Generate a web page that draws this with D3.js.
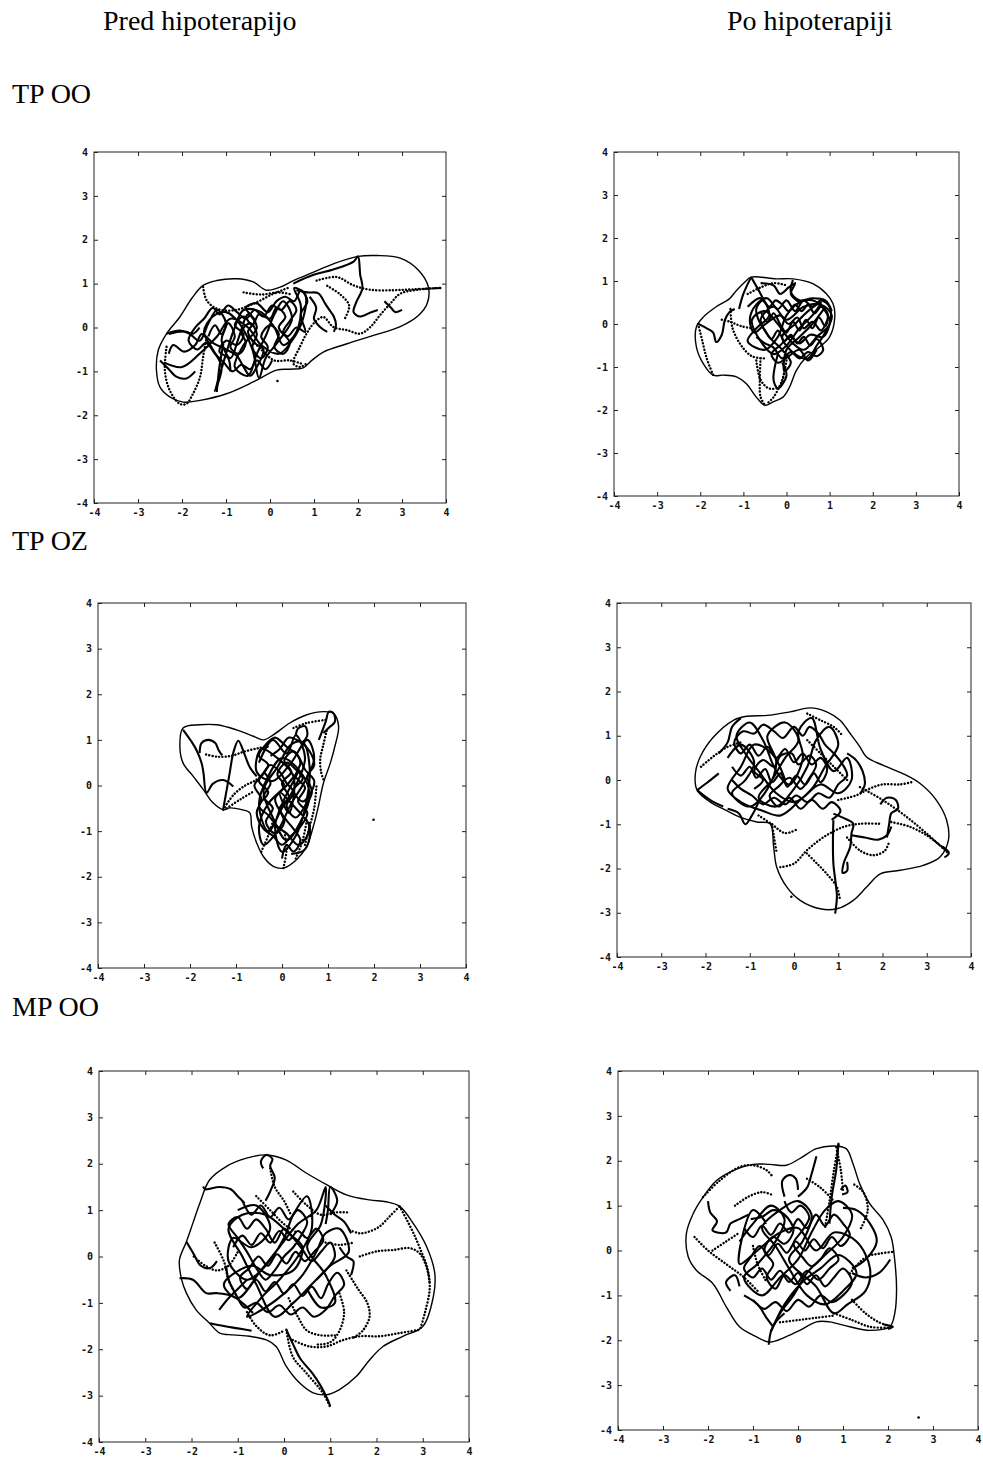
<!DOCTYPE html>
<html>
<head>
<meta charset="utf-8">
<script src="https://cdn.jsdelivr.net/npm/d3@7"></script>
<style>
  body { margin: 0; background: #fff; }
</style>
</head>
<body>
<svg id="chart" width="983" height="1458"></svg>
<script>

const axisTicks = [-4, -3, -2, -1, 0, 1, 2, 3, 4];
const columnTitles = ["Pred hipoterapijo", "Po hipoterapiji"];
const rowLabels = ["TP OO", "TP OZ", "MP OO"];

// ---- TP OO, pred ----
const tpOoPredEnvelope = [[2.0,1.62],[2.43,1.64],[2.96,1.58],[3.38,1.30],[3.6,0.92],[3.57,0.54],[3.38,0.28],[2.96,0.02],[2.35,-0.18],[1.75,-0.37],[1.21,-0.56],[0.95,-0.75],[0.75,-0.92],[0.45,-0.95],[0.15,-0.97],[-0.38,-1.24],[-0.99,-1.51],[-1.59,-1.66],[-1.97,-1.70],[-2.28,-1.58],[-2.5,-1.36],[-2.58,-0.98],[-2.54,-0.52],[-2.35,-0.14],[-2.05,0.24],[-1.78,0.66],[-1.52,0.96],[-1.21,1.07],[-0.76,1.11],[-0.38,1.04],[-0.08,0.85],[0.23,0.92],[0.53,1.07],[0.99,1.26],[1.44,1.45]];
const tpOoPredSolid = [
  [[-2.3,-0.15],[-1.9,-0.1],[-1.6,-0.3],[-1.4,0.1],[-1.2,0.4],[-1.0,0.1],[-1.1,-0.3],[-0.9,-0.7],[-0.7,-0.2],[-0.5,0.3],[-0.3,0.0],[-0.6,-0.4],[-0.8,-0.9],[-0.5,-1.1],[-0.3,-0.6],[-0.1,-0.2],[0.1,0.3],[0.3,0.6],[0.5,0.2],[0.2,-0.3],[-0.1,-0.7],[-0.25,-1.15],[-0.4,-0.5],[-0.7,0.1],[-1.0,0.35],[-1.3,0.25],[-1.5,-0.1],[-1.3,-0.5],[-1.1,-0.9],[-1.25,-1.45],[-1.0,-0.6],[-0.8,0.0],[-0.6,0.4],[-0.2,0.35],[0.1,0.0],[0.3,-0.4],[0.6,-0.1],[0.7,0.5],[0.55,0.9],[0.8,0.75],[0.75,0.2],[0.5,-0.3],[0.2,-0.6],[-0.2,-0.4],[-0.5,0.0],[-0.9,0.2],[-1.2,-0.2],[-1.6,-0.6],[-2.0,-0.9],[-2.4,-0.8]],
  [[-1.4,-0.2],[-1.25,0.05],[-1.1,-0.15],[-0.95,0.1],[-0.8,-0.2],[-0.9,-0.45],[-0.7,-0.6],[-0.55,-0.35],[-0.65,-0.1],[-0.45,0.1],[-0.3,-0.15],[-0.4,-0.45],[-0.2,-0.7],[-0.05,-0.45],[-0.2,-0.2],[0.0,0.05],[0.2,-0.15],[0.1,-0.45],[0.3,-0.6],[0.45,-0.35],[0.3,-0.1],[0.45,0.15],[0.6,0.4],[0.45,0.6],[0.25,0.4],[0.05,0.5],[-0.15,0.25],[-0.35,0.4],[-0.55,0.2],[-0.75,0.35],[-0.95,0.5],[-1.15,0.3],[-1.3,0.45],[-1.5,0.2],[-1.7,0.0],[-1.85,-0.3],[-1.65,-0.5],[-1.45,-0.35],[-1.25,-0.6],[-1.05,-0.8],[-0.85,-1.0],[-0.65,-0.85],[-0.45,-0.95],[-0.3,-0.75],[-0.1,-0.95],[0.05,-0.75]],
  [[-0.9,-1.0],[-0.95,-0.7],[-1.15,-0.55],[-1.0,-0.3],[-0.75,-0.4],[-0.6,-0.15],[-0.8,0.05],[-0.6,0.25],[-0.4,0.05],[-0.25,0.3],[0.0,0.2],[0.15,0.45],[0.35,0.25],[0.2,0.0],[0.4,-0.2],[0.6,0.0],[0.8,-0.1],[0.7,0.3],[0.85,0.6],[0.7,0.85],[0.55,0.6],[0.35,0.7],[0.15,0.6],[-0.05,0.35],[-0.3,0.55],[-0.55,0.45],[-0.35,0.15],[-0.5,-0.1],[-0.35,-0.35],[-0.15,-0.5],[-0.3,-0.9],[-0.45,-1.1],[-0.6,-0.9],[-0.75,-0.65],[-1.0,-0.5],[-1.3,-0.35],[-1.55,-0.15],[-1.7,-0.4],[-1.95,-0.55],[-2.2,-0.4],[-2.3,-0.6]],
  [[0.53,1.0],[0.99,1.2],[1.44,1.32],[1.9,1.5],[2.0,1.62],[2.05,1.2],[2.1,0.9],[1.95,0.55],[1.9,0.35],[2.05,0.25],[2.3,0.35],[2.45,0.4]],
  [[0.6,0.85],[0.85,0.8],[1.1,0.78],[1.25,0.55],[1.35,0.4],[1.45,0.25],[1.5,0.05],[1.45,-0.1]],
  [[0.9,0.7],[1.05,0.45],[1.0,0.2],[1.15,0.0],[1.3,-0.1]],
  [[-2.5,-0.75],[-2.3,-0.95],[-2.13,-1.12],[-1.9,-1.16],[-1.7,-1.0]],
  [[-2.35,-0.14],[-2.05,-0.07],[-1.75,-0.14],[-1.6,0.0]],
  [[-1.06,-0.37],[-1.15,-0.9],[-1.21,-1.47]],
  [[2.6,0.6],[2.75,0.45],[2.85,0.35],[3.0,0.4]]
];
const tpOoPredDotted = [
  [[-1.52,0.92],[-1.44,0.62],[-1.21,0.43],[-0.83,0.39],[-0.38,0.54],[0.08,0.77],[0.46,0.92]],
  [[1.06,1.07],[1.52,1.15],[1.9,0.96],[2.28,0.86],[2.81,0.85],[3.26,0.87],[3.87,0.9]],
  [[3.87,0.9],[3.34,0.86],[2.96,0.77],[2.73,0.54],[2.5,0.28],[2.28,0.01],[2.05,-0.14],[1.75,-0.06],[1.44,0.01],[1.21,0.24],[0.99,0.09],[0.83,-0.14],[0.68,-0.44],[0.53,-0.82],[0.68,-0.90],[0.83,-0.82]],
  [[-2.35,-0.44],[-2.39,-0.98],[-2.28,-1.43],[-2.05,-1.74],[-1.9,-1.74],[-1.75,-1.51],[-1.59,-1.13],[-1.52,-0.67],[-1.44,-0.22]],
  [[-0.5,-0.2],[-0.2,-0.5],[0.1,-0.75],[0.45,-0.75],[0.7,-0.82]],
  [[-0.6,0.8],[-0.2,0.75],[0.2,0.8],[0.5,0.75]],
  [[1.3,0.95],[1.6,0.75],[1.8,0.5],[1.7,0.2]]
];
const tpOoPredDots = [[0.17,-1.22]];

// ---- TP OO, po ----
const tpOoPoEnvelope = [[-0.82,1.09],[-0.24,1.05],[0.15,1.05],[0.61,0.94],[0.92,0.71],[1.08,0.47],[1.12,0.16],[1.0,-0.3],[0.77,-0.53],[0.46,-0.77],[0.23,-1.08],[0.07,-1.47],[-0.08,-1.7],[-0.31,-1.81],[-0.5,-1.89],[-0.7,-1.7],[-0.93,-1.39],[-1.16,-1.23],[-1.47,-1.19],[-1.7,-1.19],[-1.93,-0.92],[-2.09,-0.53],[-2.09,-0.07],[-1.93,0.16],[-1.63,0.4],[-1.32,0.59],[-1.16,0.78],[-0.97,0.97]];
const tpOoPoSolid = [
  [[-0.9,0.4],[-0.6,0.6],[-0.4,0.2],[-0.7,-0.1],[-0.9,-0.4],[-0.5,-0.6],[-0.2,-0.3],[0.0,0.2],[0.3,0.5],[0.6,0.55],[0.9,0.3],[1.0,0.0],[0.7,-0.3],[0.4,-0.6],[0.1,-0.4],[-0.2,0.0],[-0.5,0.3],[-0.8,0.1],[-0.6,-0.4],[-0.3,-0.7],[0.0,-0.5],[0.3,-0.1],[0.6,0.2],[0.8,0.5],[0.5,0.3],[0.2,0.0],[-0.1,-0.3],[0.2,-0.7],[0.5,-0.8],[0.7,-0.5],[0.9,-0.2],[1.05,0.2],[0.8,0.45],[0.4,0.4],[0.0,0.1],[-0.3,0.4],[-0.6,0.1],[-0.4,-0.3],[-0.1,-0.6],[0.1,-0.9],[-0.05,-1.1],[0.0,-0.6],[0.3,-0.3],[0.6,0.0],[0.9,0.4]],
  [[-0.6,0.3],[-0.45,0.05],[-0.3,0.25],[-0.15,0.0],[0.0,-0.2],[0.15,0.05],[0.3,-0.15],[0.45,0.1],[0.6,-0.1],[0.75,0.15],[0.9,-0.05],[0.95,0.25],[0.8,0.4],[0.65,0.25],[0.5,0.45],[0.35,0.3],[0.2,0.45],[0.05,0.3],[-0.1,0.45],[-0.25,0.55],[-0.4,0.4],[-0.55,0.55],[-0.7,0.35],[-0.65,0.1],[-0.5,-0.15],[-0.35,-0.35],[-0.2,-0.15],[-0.05,-0.4],[0.1,-0.25],[0.25,-0.45],[0.4,-0.3],[0.55,-0.5],[0.7,-0.35],[0.85,-0.6],[0.7,-0.75],[0.5,-0.65],[0.3,-0.8],[0.1,-0.65],[-0.1,-0.8],[-0.3,-0.55],[-0.5,-0.45],[-0.7,-0.3]],
  [[0.95,0.1],[0.8,-0.15],[0.6,0.05],[0.4,-0.1],[0.25,0.15],[0.05,0.0],[-0.15,0.2],[-0.35,0.1],[-0.55,-0.05],[-0.75,-0.2],[-0.85,0.1],[-0.7,0.45],[-0.45,0.6],[-0.2,0.35],[0.0,0.55],[0.2,0.3],[0.4,0.55],[0.6,0.4],[0.8,0.55],[1.0,0.4],[1.0,0.0],[0.85,-0.3],[0.55,-0.25],[0.3,-0.45],[0.1,-0.3],[-0.15,-0.5],[-0.35,-0.7],[-0.2,-0.9],[0.05,-0.75],[0.3,-0.6],[0.5,-0.85],[0.7,-0.6]],
  [[-2.05,0.01],[-1.85,-0.1],[-1.7,-0.2],[-1.63,-0.42],[-1.5,-0.25],[-1.43,0.09],[-1.32,0.28],[-1.2,0.35]],
  [[-0.82,1.09],[-1.0,0.7],[-1.1,0.35]],
  [[-0.82,1.09],[-0.6,0.7],[-0.5,0.5]],
  [[-0.6,0.95],[-0.3,0.9],[-0.15,0.7],[0.05,0.85],[0.2,0.95],[0.1,0.7],[0.3,0.5]],
  [[0.15,1.02],[0.1,0.75],[0.3,0.55],[0.6,0.6],[0.9,0.55],[1.05,0.3]],
  [[-0.2,-0.7],[-0.3,-1.3],[-0.2,-1.5],[0.0,-1.2],[-0.1,-0.9]]
];
const tpOoPoDotted = [
  [[-2.05,0.0],[-1.95,-0.4],[-1.85,-0.8],[-1.7,-1.19]],
  [[-1.3,0.35],[-1.25,-0.1],[-1.05,-0.5],[-0.8,-0.75],[-0.5,-0.8]],
  [[-0.6,-0.8],[-0.62,-1.3],[-0.6,-1.7],[-0.5,-1.89]],
  [[-0.7,-0.85],[-0.6,-1.3],[-0.4,-1.5],[-0.15,-1.45],[-0.05,-1.1]],
  [[0.0,-0.85],[-0.1,-1.3],[-0.3,-1.7],[-0.45,-1.85]],
  [[-0.9,0.7],[-0.6,0.85],[-0.3,0.95],[0.0,0.9]],
  [[-1.5,0.1],[-1.3,0.05],[-1.05,-0.05],[-0.8,-0.1]]
];
const tpOoPoDots = [];

// ---- TP OZ, pred ----
const tpOzPredEnvelope = [[-2.15,1.26],[-1.79,1.33],[-1.42,1.33],[-0.99,1.22],[-0.62,1.08],[-0.41,1.0],[-0.19,1.11],[0.17,1.37],[0.54,1.55],[0.9,1.62],[1.12,1.58],[1.23,1.3],[1.15,0.86],[1.05,0.49],[0.9,0.05],[0.79,-0.46],[0.68,-0.9],[0.54,-1.33],[0.32,-1.62],[0.03,-1.81],[-0.19,-1.77],[-0.41,-1.55],[-0.55,-1.26],[-0.66,-0.9],[-0.7,-0.6],[-0.88,-0.53],[-1.13,-0.49],[-1.28,-0.53],[-1.5,-0.38],[-1.71,-0.09],[-1.93,0.2],[-2.15,0.49],[-2.22,0.85]];
const tpOzPredSolid = [
  [[-0.5,0.5],[-0.2,1.0],[0.1,0.7],[0.3,1.1],[0.5,0.6],[0.3,0.0],[0.0,-0.5],[-0.3,-1.0],[-0.5,-0.4],[-0.3,0.2],[0.0,0.6],[0.4,0.3],[0.6,-0.2],[0.4,-0.8],[0.1,-1.2],[-0.2,-0.7],[-0.4,-0.1],[-0.1,0.4],[0.2,0.9],[0.45,0.95],[0.6,0.4],[0.5,-0.5],[0.3,-1.1],[0.0,-1.45],[-0.15,-0.9],[0.05,-0.3],[0.35,0.3],[0.1,0.0],[-0.3,-0.4],[-0.5,-0.9],[-0.4,-1.3],[-0.1,-1.0],[0.2,-0.4],[0.5,0.1],[0.7,0.6],[0.55,1.0],[0.2,0.5],[-0.2,0.1],[-0.55,0.3],[-0.45,0.8],[-0.1,0.6],[0.25,0.2],[0.15,-0.6],[-0.05,-0.15],[0.3,-0.5],[0.6,-0.9],[0.5,-1.4],[0.2,-1.5]],
  [[-0.4,0.3],[-0.25,0.05],[-0.4,-0.25],[-0.2,-0.5],[-0.35,-0.8],[-0.15,-1.05],[0.05,-0.8],[-0.05,-0.5],[0.15,-0.25],[0.0,0.05],[0.2,0.3],[0.05,0.55],[0.25,0.75],[0.4,0.5],[0.3,0.2],[0.5,-0.05],[0.35,-0.35],[0.55,-0.6],[0.4,-0.9],[0.2,-1.1],[0.0,-1.3],[-0.2,-1.1],[-0.4,-0.95],[-0.55,-0.6],[-0.45,-0.3],[-0.6,0.0],[-0.45,0.2],[-0.25,0.45],[-0.05,0.3],[0.1,0.05],[0.25,-0.15],[0.1,-0.45],[0.3,-0.7],[0.5,-0.45],[0.65,-0.15],[0.55,0.2],[0.7,0.45],[0.6,0.75],[0.4,0.95],[0.15,1.05],[-0.05,0.8],[-0.25,0.65]],
  [[0.0,-1.6],[0.1,-1.3],[0.25,-1.45],[0.4,-1.2],[0.25,-0.95],[0.05,-0.7],[-0.15,-0.3],[0.05,0.0],[-0.1,0.25],[0.1,0.5],[0.3,0.35],[0.45,0.15],[0.25,-0.1],[0.45,-0.35],[0.6,-0.2],[0.7,0.1],[0.5,0.35],[0.35,0.65],[0.1,0.85],[-0.15,1.05],[-0.35,0.9],[-0.5,0.65],[-0.3,0.45],[-0.5,0.1],[-0.3,-0.15],[-0.5,-0.45],[-0.3,-0.65],[-0.1,-0.9],[0.1,-1.05],[0.35,-1.3],[0.55,-1.1],[0.6,-0.8]],
  [[-2.15,1.22],[-1.98,0.98],[-1.86,0.78],[-1.75,0.5],[-1.71,0.3],[-1.64,-0.16],[-1.5,0.04],[-1.28,0.12],[-1.06,-0.02]],
  [[-1.79,0.71],[-1.75,0.93],[-1.6,1.0],[-1.45,0.93],[-1.38,0.78],[-1.3,0.66]],
  [[-1.28,-0.53],[-1.15,0.2],[-1.05,0.75],[-0.95,0.98],[-0.82,0.7],[-0.7,0.4],[-0.55,0.2]],
  [[0.8,1.0],[0.95,1.4],[1.02,1.62],[1.12,1.58],[1.15,1.4],[1.0,1.25],[0.9,1.15]],
  [[0.3,1.1],[0.35,1.25],[0.5,1.3],[0.55,1.1],[0.45,0.95]]
];
const tpOzPredDotted = [
  [[-1.65,0.68],[-1.4,0.63],[-1.1,0.65],[-0.8,0.75],[-0.5,0.82],[-0.3,0.85]],
  [[-1.28,-0.53],[-1.05,-0.2],[-0.8,0.0],[-0.6,0.1],[-0.4,0.25]],
  [[-1.2,-0.5],[-0.9,-0.3],[-0.65,-0.15]],
  [[0.25,1.26],[0.54,1.37],[0.97,1.44]],
  [[0.97,1.2],[0.9,0.9],[0.83,0.57],[0.85,0.3],[0.9,0.13]],
  [[-0.45,-1.45],[-0.3,-1.1],[-0.2,-0.8]],
  [[0.03,-1.81],[0.1,-1.4],[0.05,-1.0]],
  [[0.5,-1.3],[0.6,-0.9],[0.7,-0.5],[0.75,0.0]],
  [[0.3,-1.6],[0.45,-1.2],[0.55,-0.7]]
];
const tpOzPredDots = [[1.99,-0.75]];

// ---- TP OZ, po ----
const tpOzPoEnvelope = [[-2.19,-0.23],[-2.23,0.14],[-2.12,0.52],[-1.82,0.97],[-1.37,1.35],[-1.07,1.44],[-0.61,1.46],[-0.09,1.54],[0.37,1.63],[0.74,1.54],[1.04,1.35],[1.27,1.05],[1.49,0.75],[1.64,0.52],[2.02,0.33],[2.47,0.14],[2.85,-0.08],[3.22,-0.46],[3.45,-0.91],[3.49,-1.36],[3.3,-1.74],[2.92,-1.93],[2.4,-2.04],[1.95,-2.12],[1.64,-2.42],[1.34,-2.72],[0.97,-2.91],[0.59,-2.91],[0.14,-2.72],[-0.16,-2.42],[-0.39,-1.97],[-0.46,-1.51],[-0.54,-0.99],[-0.84,-0.95],[-1.22,-0.84],[-1.52,-0.69],[-1.89,-0.5]];
const tpOzPoSolid = [
  [[-1.5,0.5],[-1.2,0.8],[-0.9,0.4],[-1.1,0.0],[-1.4,-0.3],[-1.0,-0.6],[-0.6,-0.2],[-0.4,0.4],[-0.6,1.0],[-0.2,1.3],[0.1,0.9],[-0.2,0.5],[-0.5,0.0],[-0.8,-0.4],[-0.4,-0.6],[0.0,-0.2],[0.3,0.3],[0.5,0.9],[0.8,1.2],[1.0,0.8],[0.7,0.3],[0.4,-0.2],[0.0,-0.5],[-0.4,-0.3],[-0.8,0.2],[-1.1,0.6],[-1.3,1.0],[-1.0,1.3],[-0.7,0.9],[-0.4,0.2],[-0.1,-0.1],[0.2,0.5],[0.1,1.1],[0.4,1.4],[0.6,0.7],[0.9,0.2],[1.2,0.5],[1.3,0.0],[1.0,-0.3],[0.6,-0.1],[0.2,-0.4],[-0.3,-0.8],[-0.7,-0.7],[-1.2,-0.5],[-1.5,-0.2],[-1.2,0.3],[-0.9,0.8],[-0.5,0.6],[-0.2,0.0]],
  [[-1.4,0.3],[-1.2,0.1],[-1.0,0.3],[-0.85,0.05],[-0.65,0.25],[-0.5,-0.05],[-0.3,0.15],[-0.15,-0.15],[0.05,0.1],[0.25,-0.1],[0.45,0.15],[0.6,-0.05],[0.75,0.25],[0.6,0.5],[0.4,0.35],[0.2,0.6],[0.0,0.4],[-0.2,0.7],[-0.4,0.5],[-0.6,0.75],[-0.8,0.55],[-1.0,0.8],[-1.2,0.6],[-1.35,0.85],[-1.15,1.1],[-0.9,1.05],[-0.7,1.25],[-0.45,1.1],[-0.25,0.95],[0.0,1.2],[0.2,1.0],[0.35,1.2],[0.55,1.05],[0.7,0.8],[0.9,0.6],[1.1,0.35],[1.2,0.1],[1.0,-0.1],[0.8,-0.4],[0.55,-0.3],[0.3,-0.5],[0.05,-0.35],[-0.2,-0.55],[-0.45,-0.4],[-0.7,-0.55],[-0.95,-0.35],[-1.2,-0.2],[-1.4,0.0]],
  [[-0.9,-0.2],[-0.7,0.0],[-0.9,0.2],[-0.7,0.45],[-0.45,0.3],[-0.3,0.55],[-0.05,0.6],[0.1,0.35],[0.35,0.55],[0.5,0.35],[0.35,0.05],[0.15,-0.2],[-0.1,0.05],[-0.35,-0.15],[-0.55,-0.35],[-0.35,-0.6],[-0.1,-0.4],[0.15,-0.65],[0.4,-0.45],[0.65,-0.65],[0.85,-0.5],[1.05,-0.7],[0.85,-0.9]],
  [[-1.7,0.6],[-1.5,0.85],[-1.4,1.2],[-1.2,1.4]],
  [[-2.19,-0.23],[-1.95,-0.05],[-1.7,0.15]],
  [[-2.19,-0.23],[-1.9,-0.45],[-1.6,-0.6]],
  [[-1.5,-0.65],[-1.25,-0.75],[-1.1,-1.0],[-0.95,-0.8],[-0.8,-0.5]],
  [[0.89,-0.76],[1.1,-0.85],[1.34,-0.99],[1.3,-1.2],[1.27,-1.51],[1.12,-1.89],[1.1,-2.1],[1.2,-2.05],[1.2,-1.85]],
  [[0.89,-0.91],[0.88,-1.4],[0.89,-1.89],[0.95,-2.4],[0.97,-2.64],[0.93,-3.02]],
  [[1.5,-0.3],[1.6,-0.1],[1.55,0.2],[1.4,0.45],[1.2,0.6]],
  [[1.95,-0.55],[2.1,-0.4],[2.3,-0.45],[2.35,-0.65],[2.2,-0.75],[2.15,-1.0],[2.1,-1.3]],
  [[1.3,-1.25],[1.6,-1.3],[1.9,-1.35],[2.1,-1.25],[2.2,-1.05]],
  [[3.35,-1.5],[3.5,-1.65],[3.4,-1.75]]
];
const tpOzPoDotted = [
  [[1.49,-0.16],[2.0,-0.45],[2.5,-0.8],[3.0,-1.21],[3.49,-1.66]],
  [[2.2,-0.95],[2.6,-1.05],[3.0,-1.25],[3.45,-1.6]],
  [[-0.31,-1.97],[0.0,-1.89],[0.29,-1.59],[0.67,-1.29],[1.12,-1.06],[1.49,-0.99],[1.95,-0.99]],
  [[0.29,-1.66],[0.52,-1.89],[0.74,-2.12],[0.97,-2.42],[1.04,-2.72]],
  [[1.0,-0.45],[1.4,-0.35],[1.7,-0.2],[2.0,-0.1],[2.4,-0.1],[2.65,-0.05]],
  [[1.2,-1.3],[1.5,-1.6],[1.8,-1.7],[2.05,-1.6],[2.15,-1.4]],
  [[-0.5,-1.0],[-0.45,-1.3],[-0.4,-1.6]],
  [[-0.8,-0.8],[-0.5,-1.0],[-0.2,-1.2],[0.1,-1.1]],
  [[0.3,0.9],[0.6,0.6],[0.9,0.3],[1.2,0.0]],
  [[-2.1,0.3],[-1.8,0.55],[-1.5,0.75],[-1.2,0.85]],
  [[0.3,1.5],[0.6,1.35],[0.9,1.2],[1.1,1.0]]
];
const tpOzPoDots = [[-0.06,-2.64]];

// ---- MP OO, pred ----
const mpOoPredEnvelope = [[-2.11,0.32],[-1.97,0.72],[-1.82,1.15],[-1.61,1.65],[-1.25,1.94],[-0.81,2.12],[-0.38,2.19],[0.05,2.08],[0.48,1.8],[0.92,1.55],[1.35,1.33],[1.85,1.22],[2.21,1.18],[2.5,1.08],[2.79,0.72],[3.08,0.22],[3.26,-0.36],[3.23,-0.86],[3.0,-1.51],[2.57,-1.72],[2.14,-1.94],[1.85,-2.23],[1.56,-2.59],[1.2,-2.87],[0.92,-2.98],[0.63,-2.94],[0.34,-2.73],[0.05,-2.37],[-0.17,-1.94],[-0.38,-1.8],[-0.74,-1.72],[-1.1,-1.69],[-1.39,-1.65],[-1.61,-1.44],[-1.9,-1.15],[-2.11,-0.79],[-2.22,-0.47],[-2.26,-0.07]];
const mpOoPredSolid = [
  [[-1.0,1.0],[-0.6,1.1],[-0.3,0.6],[-0.7,0.2],[-1.1,0.4],[-1.2,-0.1],[-0.8,-0.5],[-0.4,-0.2],[0.0,0.4],[0.2,0.9],[0.5,1.3],[0.6,0.6],[0.3,0.0],[-0.1,-0.5],[-0.5,-0.9],[-0.8,-1.3],[-0.4,-1.1],[0.0,-0.8],[0.4,-0.4],[0.7,0.1],[0.9,0.5],[1.2,0.6],[1.4,0.1],[1.0,-0.2],[0.6,-0.6],[0.2,-1.0],[-0.2,-1.3],[-0.6,-0.6],[-0.9,0.0],[-1.2,0.6],[-0.9,0.9],[-0.4,0.9],[0.1,0.5],[0.4,0.2],[0.2,-0.3],[-0.3,-0.4],[-0.7,-0.2],[-1.3,-0.6],[-1.0,-0.9],[-0.5,-0.3],[-0.1,0.2],[0.3,0.7],[0.7,1.0],[0.9,1.5],[0.8,0.7],[0.5,0.2],[0.9,-0.4],[1.1,-1.0],[0.8,-1.1],[0.5,-0.7]],
  [[-1.1,0.2],[-0.9,0.45],[-0.7,0.25],[-0.5,0.5],[-0.3,0.3],[-0.1,0.55],[0.1,0.35],[0.3,0.55],[0.5,0.4],[0.7,0.6],[0.85,0.35],[0.65,0.1],[0.45,-0.1],[0.25,0.1],[0.05,-0.15],[-0.15,0.05],[-0.35,-0.2],[-0.55,0.0],[-0.75,-0.25],[-0.95,-0.45],[-0.8,-0.7],[-0.6,-0.5],[-0.4,-0.75],[-0.2,-0.55],[0.0,-0.8],[0.2,-0.6],[0.4,-0.85],[0.6,-0.65],[0.8,-0.9],[0.95,-0.6],[1.15,-0.35],[1.3,-0.6],[1.1,-0.85],[0.9,-1.15],[0.65,-1.3],[0.4,-1.1],[0.15,-1.25],[-0.1,-1.05],[-0.35,-1.2],[-0.6,-1.0],[-0.85,-1.1],[-1.05,-0.8],[-1.2,-0.5],[-1.25,-0.2]],
  [[-0.9,1.2],[-0.7,0.9],[-0.5,1.1],[-0.3,0.85],[-0.1,1.05],[0.1,0.8],[0.3,1.0],[0.5,0.75],[0.4,0.5],[0.2,0.2],[0.0,0.0],[-0.2,-0.3],[-0.4,-0.5],[-0.6,-0.25],[-0.8,0.1],[-1.0,0.4],[-1.2,0.7],[-1.0,0.85],[-0.8,0.6],[-0.6,0.8],[-0.4,0.6],[-0.2,0.3],[0.0,0.6],[0.2,0.4],[0.4,0.15],[0.6,-0.1],[0.8,0.1],[1.0,0.3],[1.1,0.0],[0.9,-0.3],[0.7,-0.5]],
  [[-0.45,1.9],[-0.5,2.05],[-0.38,2.19],[-0.25,2.1],[-0.3,1.95],[-0.2,1.7],[-0.3,1.4],[-0.4,1.2]],
  [[-2.26,-0.47],[-1.97,-0.5],[-1.68,-0.79],[-1.46,-0.79],[-1.1,-0.86],[-0.81,-1.08],[-0.67,-1.22]],
  [[-2.11,0.32],[-1.95,0.05],[-1.8,-0.2],[-1.6,-0.25],[-1.45,-0.1]],
  [[-1.75,1.51],[-1.7,1.45],[-1.4,1.5],[-1.15,1.45],[-1.0,1.3],[-0.85,1.15]],
  [[0.05,-1.58],[0.2,-1.9],[0.35,-2.2],[0.6,-2.5],[0.8,-2.8],[0.95,-3.1],[1.0,-3.23]],
  [[1.0,0.9],[1.15,1.2],[1.0,1.5],[0.95,1.0],[0.9,0.7]],
  [[0.9,1.1],[1.1,0.9],[1.3,0.75],[1.45,0.5]],
  [[1.2,0.2],[1.35,0.0],[1.5,-0.1],[1.45,-0.4]],
  [[-1.4,-1.15],[-1.2,-0.9],[-1.0,-0.7],[-0.8,-0.5]],
  [[-1.6,-1.44],[-1.3,-1.5],[-1.0,-1.55],[-0.7,-1.6]]
];
const mpOoPredDotted = [
  [[1.42,0.57],[1.64,0.5],[1.85,0.54],[2.07,0.65],[2.28,0.86],[2.5,1.08]],
  [[2.5,1.08],[2.65,0.8],[2.8,0.5],[2.95,0.15],[3.1,-0.25],[3.15,-0.7],[3.05,-1.2],[2.95,-1.55]],
  [[1.64,0.0],[2.0,0.11],[2.36,0.14],[2.72,0.18],[2.93,0.07],[3.08,-0.22],[3.15,-0.57]],
  [[0.19,-1.8],[0.55,-1.94],[0.92,-1.94],[1.28,-1.8],[1.64,-1.72],[2.07,-1.72],[2.5,-1.65],[2.93,-1.58]],
  [[0.05,-1.58],[0.19,-2.16],[0.48,-2.51],[0.84,-2.94],[0.99,-3.23]],
  [[1.35,-0.3],[1.6,-0.7],[1.8,-1.0],[1.85,-1.3],[1.7,-1.6],[1.5,-1.75]],
  [[1.2,-0.8],[1.3,-1.2],[1.2,-1.6],[1.0,-1.85],[0.7,-1.9]],
  [[0.1,-0.9],[0.3,-1.3],[0.5,-1.6],[0.8,-1.7],[1.1,-1.7]],
  [[-0.3,1.9],[-0.2,1.5],[0.0,1.2],[0.15,0.9]],
  [[-0.6,1.3],[-0.3,1.0],[0.0,0.7],[0.3,0.5]],
  [[0.2,1.4],[0.5,1.1],[0.8,0.9],[1.1,0.95],[1.4,0.95]],
  [[-1.5,0.3],[-1.3,-0.1],[-1.2,-0.5],[-1.0,-0.9]],
  [[-1.95,0.0],[-1.7,-0.2],[-1.45,-0.3],[-1.2,-0.2],[-1.0,0.1]],
  [[-0.8,-1.2],[-0.6,-1.5],[-0.3,-1.7],[0.0,-1.6]],
  [[0.9,0.3],[1.2,0.25],[1.5,0.3]]
];
const mpOoPredDots = [];

// ---- MP OO, po ----
const mpOoPoEnvelope = [[-2.48,0.38],[-2.33,0.82],[-2.11,1.19],[-1.81,1.56],[-1.44,1.78],[-1.0,1.92],[-0.63,1.92],[-0.26,1.9],[0.04,2.05],[0.41,2.27],[0.78,2.33],[1.07,2.27],[1.22,1.94],[1.37,1.49],[1.59,1.05],[1.89,0.68],[2.07,0.3],[2.15,-0.22],[2.19,-0.88],[2.15,-1.4],[2.04,-1.7],[1.59,-1.78],[1.15,-1.7],[0.7,-1.59],[0.41,-1.59],[0.04,-1.78],[-0.26,-1.92],[-0.63,-2.04],[-0.93,-1.92],[-1.3,-1.7],[-1.59,-1.26],[-1.89,-0.74],[-2.26,-0.44],[-2.44,-0.14]];
const mpOoPoSolid = [
  [[-1.3,0.2],[-1.0,0.6],[-0.6,1.0],[-0.3,0.7],[-0.5,0.2],[-0.9,-0.3],[-1.2,-0.6],[-0.8,-1.0],[-0.4,-0.6],[0.0,-0.2],[0.3,0.4],[0.6,0.9],[0.9,1.1],[1.2,0.8],[1.0,0.3],[0.6,-0.1],[0.2,-0.5],[-0.1,-1.0],[-0.4,-1.4],[-0.6,-1.8],[-0.3,-1.2],[0.1,-0.7],[0.5,-0.4],[0.9,-0.1],[1.3,-0.5],[1.0,-0.9],[0.6,-1.2],[0.2,-1.0],[-0.2,-0.4],[-0.5,0.1],[-0.8,0.5],[-0.4,0.9],[0.0,1.1],[0.3,0.8],[0.1,0.2],[-0.2,-0.2],[0.4,-0.8],[0.8,-1.4],[1.1,-1.2],[1.5,-0.9],[1.6,-0.4],[1.3,0.2],[0.8,0.4],[0.4,0.0],[0.0,0.5],[-0.4,0.4],[-0.9,0.0],[-1.3,-0.3],[-1.0,0.9],[-0.7,0.6]],
  [[-1.2,0.5],[-1.0,0.3],[-0.8,0.55],[-0.6,0.35],[-0.4,0.6],[-0.2,0.4],[0.0,0.7],[0.2,0.5],[0.4,0.8],[0.6,0.55],[0.8,0.8],[1.0,0.6],[1.15,0.35],[0.95,0.1],[0.75,0.3],[0.55,0.05],[0.35,0.25],[0.15,0.0],[-0.05,0.2],[-0.25,-0.05],[-0.45,0.15],[-0.65,-0.1],[-0.85,0.1],[-1.05,-0.15],[-1.2,-0.4],[-1.0,-0.6],[-0.8,-0.4],[-0.6,-0.65],[-0.4,-0.45],[-0.2,-0.7],[0.0,-0.5],[0.2,-0.75],[0.4,-0.55],[0.6,-0.8],[0.8,-0.6],[1.0,-0.4],[1.2,-0.7],[1.0,-1.0],[0.75,-1.15],[0.5,-1.0],[0.25,-1.25],[0.0,-1.1],[-0.25,-1.35],[-0.5,-1.15],[-0.75,-1.3],[-1.0,-1.1]],
  [[-0.3,1.1],[-0.15,0.85],[0.05,1.0],[0.25,0.75],[0.1,0.45],[-0.1,0.15],[0.1,-0.15],[0.3,-0.35],[0.5,-0.2],[0.7,0.05],[0.9,-0.2],[0.7,-0.4],[0.45,-0.65],[0.2,-0.45],[-0.05,-0.75],[-0.3,-0.55],[-0.5,-0.85],[-0.7,-0.6],[-0.55,-0.3],[-0.75,0.0],[-0.55,0.3],[-0.3,0.15],[-0.1,0.45],[-0.3,0.8],[-0.55,0.9],[-0.8,0.75],[-1.05,0.7]],
  [[0.9,2.4],[0.85,1.8],[0.75,1.2],[0.7,0.6]],
  [[0.41,2.1],[0.3,1.7],[0.2,1.4],[0.0,1.2]],
  [[-0.3,1.2],[-0.35,1.55],[-0.2,1.68],[-0.05,1.6],[0.0,1.35]],
  [[-2.0,1.1],[-1.95,0.85],[-1.8,0.65],[-1.9,0.45],[-1.6,0.4],[-1.5,0.6],[-1.3,0.7],[-1.1,0.8]],
  [[0.95,1.35],[1.05,1.45],[1.1,1.3],[0.98,1.25]],
  [[-0.65,-2.1],[-0.6,-1.8],[-0.5,-1.6],[-0.3,-1.4]],
  [[-1.2,-1.0],[-0.9,-1.2],[-0.7,-1.5],[-0.55,-1.7]],
  [[-1.5,-0.9],[-1.6,-0.7],[-1.4,-0.55],[-1.3,-0.8]],
  [[1.2,-0.4],[1.5,-0.2],[1.75,0.2],[1.6,0.6],[1.3,0.9],[1.0,0.95]],
  [[1.2,-0.5],[1.5,-0.6],[1.8,-0.5],[2.05,-0.2]],
  [[1.9,-1.65],[2.1,-1.7],[2.0,-1.75]]
];
const mpOoPoDotted = [
  [[-2.11,1.19],[-1.74,1.56],[-1.3,1.86],[-1.0,1.9],[-0.7,1.79],[-0.56,1.64]],
  [[0.9,2.35],[0.8,1.8],[0.7,1.1],[0.6,0.5]],
  [[0.85,2.3],[0.95,1.8],[1.0,1.3]],
  [[0.2,1.6],[0.5,1.4],[0.8,1.1]],
  [[1.4,0.5],[1.55,0.9],[1.45,1.3],[1.2,1.5]],
  [[1.15,-0.51],[1.52,-0.14],[1.81,-0.07],[2.11,-0.03]],
  [[1.2,-1.1],[1.5,-1.4],[1.8,-1.6],[2.1,-1.7]],
  [[0.8,-1.4],[1.2,-1.55],[1.6,-1.7],[2.05,-1.72]],
  [[-1.4,1.0],[-1.1,1.2],[-0.8,1.3],[-0.6,1.25]],
  [[-1.9,0.0],[-1.6,0.2],[-1.3,0.4]],
  [[-2.3,0.3],[-2.0,0.0],[-1.6,-0.3],[-1.2,-0.6],[-0.9,-0.9]],
  [[-0.4,-1.6],[0.0,-1.55],[0.4,-1.5],[0.8,-1.45]],
  [[-1.0,0.1],[-0.9,-0.3],[-0.7,-0.7]]
];
const mpOoPoDots = [[2.68,-3.72]];

// plot frames in page pixels
const panelBoxes = [
  { left: 94,  top: 152,  width: 352, height: 351 },
  { left: 614, top: 152,  width: 345, height: 344 },
  { left: 98,  top: 603,  width: 368, height: 365 },
  { left: 617, top: 603,  width: 354, height: 354 },
  { left: 99,  top: 1071, width: 370, height: 371 },
  { left: 618, top: 1071, width: 360, height: 359 }
];

const panelData = [
  [tpOoPredEnvelope, tpOoPredSolid, tpOoPredDotted, tpOoPredDots],
  [tpOoPoEnvelope, tpOoPoSolid, tpOoPoDotted, tpOoPoDots],
  [tpOzPredEnvelope, tpOzPredSolid, tpOzPredDotted, tpOzPredDots],
  [tpOzPoEnvelope, tpOzPoSolid, tpOzPoDotted, tpOzPoDots],
  [mpOoPredEnvelope, mpOoPredSolid, mpOoPredDotted, mpOoPredDots],
  [mpOoPoEnvelope, mpOoPoSolid, mpOoPoDotted, mpOoPoDots]
];

const svg = d3.select("#chart");

// headings
const serif = "Liberation Serif, Times New Roman, serif";
svg.selectAll(".coltitle")
    .data(columnTitles)
    .enter().append("text")
    .attr("class", "coltitle")
    .attr("x", (d, i) => i === 0 ? 103 : 727)
    .attr("y", 30)
    .attr("font-family", serif)
    .attr("font-size", 28)
    .text(d => d);

const rowBaselines = [103, 550, 1016];
svg.selectAll(".rowlabel")
    .data(rowLabels)
    .enter().append("text")
    .attr("class", "rowlabel")
    .attr("x", 12)
    .attr("y", (d, i) => rowBaselines[i])
    .attr("font-family", serif)
    .attr("font-size", 28)
    .text(d => d);

function styleAxis(g) {
    g.select(".domain").remove();
    g.attr("font-family", "DejaVu Sans Mono, monospace")
        .attr("font-size", 10)
        .attr("font-weight", "bold");
    g.selectAll("line").attr("stroke", "#222");
    g.selectAll("text").attr("fill", "#111");
}

function drawPanel(box, envelope, solids, dotted, dots) {
    const xScale = d3.scaleLinear().domain([-4, 4]).range([box.left, box.left + box.width]);
    const yScale = d3.scaleLinear().domain([-4, 4]).range([box.top + box.height, box.top]);
    const fmt = d => String(d);

    const g = svg.append("g");

    // Create axes (ticks point inward, mirrored on top and right)
    g.append("g")
        .attr("transform", `translate(0,${box.top + box.height})`)
        .call(d3.axisBottom(xScale).tickValues(axisTicks).tickSizeInner(-4).tickSizeOuter(0).tickPadding(6).tickFormat(fmt))
        .call(styleAxis);
    g.append("g")
        .attr("transform", `translate(${box.left},0)`)
        .call(d3.axisLeft(yScale).tickValues(axisTicks).tickSizeInner(-4).tickSizeOuter(0).tickPadding(6).tickFormat(fmt))
        .call(styleAxis);
    g.append("g")
        .attr("transform", `translate(0,${box.top})`)
        .call(d3.axisTop(xScale).tickValues(axisTicks.slice(1, -1)).tickSizeInner(-4).tickSizeOuter(0).tickFormat(""))
        .call(styleAxis);
    g.append("g")
        .attr("transform", `translate(${box.left + box.width},0)`)
        .call(d3.axisRight(yScale).tickValues(axisTicks.slice(1, -1)).tickSizeInner(-4).tickSizeOuter(0).tickFormat(""))
        .call(styleAxis);

    g.append("rect")
        .attr("x", box.left).attr("y", box.top)
        .attr("width", box.width).attr("height", box.height)
        .attr("fill", "none").attr("stroke", "#222").attr("stroke-width", 1);

    const line = d3.line()
        .x(d => xScale(d[0]))
        .y(d => yScale(d[1]))
        .curve(d3.curveCatmullRom.alpha(0.5));

    const closedLine = d3.line()
        .x(d => xScale(d[0]))
        .y(d => yScale(d[1]))
        .curve(d3.curveCatmullRomClosed.alpha(0.5));

    // envelope
    g.append("path")
        .datum(envelope)
        .attr("d", closedLine)
        .attr("fill", "none")
        .attr("stroke", "#000")
        .attr("stroke-width", 1.4);

    // slow movement: dense dots read as a solid trace
    g.selectAll(".solid")
        .data(solids)
        .enter().append("path")
        .attr("class", "solid")
        .attr("d", line)
        .attr("fill", "none")
        .attr("stroke", "#000")
        .attr("stroke-width", 2.1)
        .attr("stroke-linejoin", "round");

    // fast movement: separate dots
    g.selectAll(".dotted")
        .data(dotted)
        .enter().append("path")
        .attr("class", "dotted")
        .attr("d", line)
        .attr("fill", "none")
        .attr("stroke", "#000")
        .attr("stroke-width", 2.4)
        .attr("stroke-linecap", "round")
        .attr("stroke-dasharray", "0.1,3.2");

    g.selectAll(".single")
        .data(dots)
        .enter().append("circle")
        .attr("class", "single")
        .attr("cx", d => xScale(d[0]))
        .attr("cy", d => yScale(d[1]))
        .attr("r", 1.3)
        .attr("fill", "#000");
}

panelBoxes.forEach((box, i) => {
    const [envelope, solids, dotted, dots] = panelData[i];
    drawPanel(box, envelope, solids, dotted, dots);
});

</script>
</body>
</html>
